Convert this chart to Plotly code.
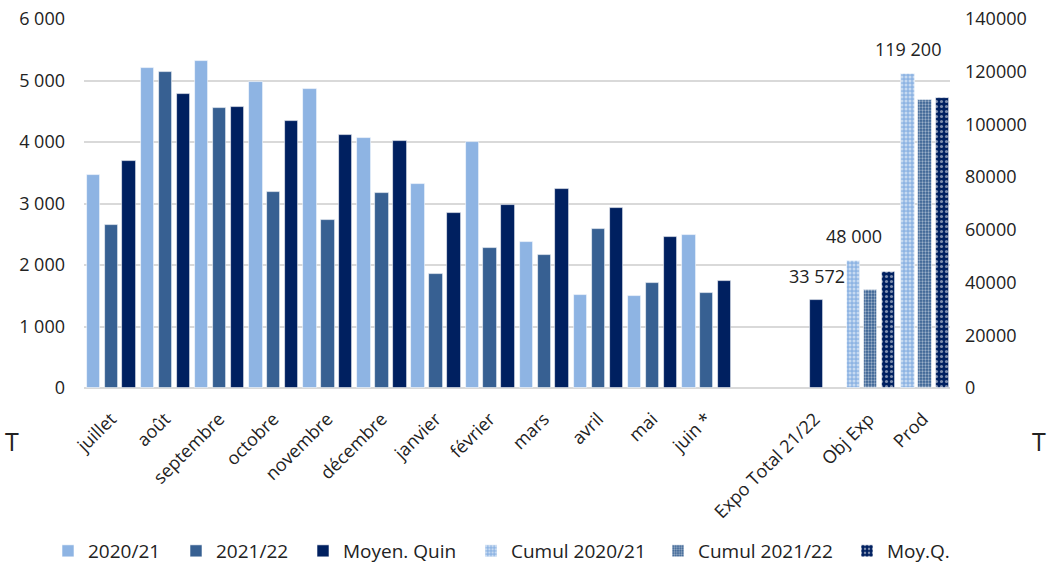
import plotly.graph_objects as go

categories = ["juillet", "août", "septembre", "octobre", "novembre", "décembre",
              "janvier", "février", "mars", "avril", "mai", "juin *",
              " ", "Expo Total 21/22", "Obj Exp", "Prod"]
months = categories[:12]

s2020_21 = [3460, 5200, 5320, 4980, 4860, 4060, 3310, 4000, 2370, 1520, 1490, 2480]
s2021_22 = [2650, 5140, 4550, 3190, 2730, 3170, 1850, 2280, 2160, 2580, 1700, 1550]
moyen_quin = [3690, 4780, 4570, 4340, 4110, 4010, 2840, 2970, 3230, 2930, 2460, 1740]

expo_cat = ["Expo Total 21/22"]
expo_total = [33572]

cumul_cats = ["Obj Exp", "Prod"]
cumul_2020_21 = [48000, 119200]
cumul_2021_22 = [37200, 109300]
moy_q = [43900, 110000]

C_LIGHT = "#8EB4E3"
C_MID = "#376092"
C_NAVY = "#002060"
FONT = "Open Sans"

fig = go.Figure()

W = 0.25
bar_line = dict(color="rgba(255,255,255,0.7)", width=0.8)
month_specs = [("2020/21", s2020_21, C_LIGHT, -0.45, "legend"),
               ("2021/22", s2021_22, C_MID, -0.12, "legend2"),
               ("Moyen. Quin", moyen_quin, C_NAVY, 0.21, "legend3")]
for name, vals, col, off, lg in month_specs:
    fig.add_trace(go.Bar(x=months, y=vals, name=name, marker=dict(color=col, line=bar_line),
                         width=W, offset=off, yaxis="y", legend=lg))

fig.add_trace(go.Bar(x=expo_cat, y=expo_total, name="Expo", showlegend=False,
                     marker=dict(color=C_NAVY, line=bar_line), width=W, offset=-0.09, yaxis="y2"))

W2 = 0.245
cum_specs = [("Cumul 2020/21", cumul_2020_21, C_LIGHT, -0.40, 4, 0.45, "legend4"),
             ("Cumul 2021/22", cumul_2021_22, C_MID, -0.085, 3, 0.45, "legend5"),
             ("Moy.Q.", moy_q, C_NAVY, 0.24, 5, 0.3, "legend6")]
for name, vals, col, off, sz, sol, lg in cum_specs:
    fig.add_trace(go.Bar(x=cumul_cats, y=vals, name=name,
                         marker=dict(color=col, line=bar_line,
                                     pattern=dict(shape=".", fgcolor="white", bgcolor=col,
                                                  size=sz, solidity=sol)),
                         width=W2, offset=off, yaxis="y2", legend=lg))

# data labels
annos = []
idx = {c: i for i, c in enumerate(categories)}
annos.append(dict(x=idx[expo_cat[0]] - 0.09 + W / 2, y=expo_total[0], xref="x", yref="y2",
                  text=f"{expo_total[0]:,}".replace(",", " "), showarrow=False,
                  yanchor="bottom", yshift=10, font=dict(size=18, color="#222")))
for c, v in zip(cumul_cats, cumul_2020_21):
    annos.append(dict(x=idx[c] - 0.40 + W2 / 2, y=v, xref="x", yref="y2",
                      text=f"{v:,}".replace(",", " "), showarrow=False,
                      yanchor="bottom", yshift=11, font=dict(size=18, color="#222")))
for xp in (-0.083, 1.103):
    annos.append(dict(x=xp, y=-0.143, xref="paper", yref="paper", text="T", showarrow=False,
                      xanchor="center", yanchor="middle",
                      font=dict(size=25, color="#222")))

# legends: one entry each, placed like the reference
legend_text_starts = [88, 216, 343, 511, 698, 887]
legend_layout = {}
for i, xs in enumerate(legend_text_starts):
    key = "legend" if i == 0 else f"legend{i + 1}"
    legend_layout[key] = dict(orientation="h", xref="container", yref="container",
                              x=(xs - 40) / 1048, xanchor="left", y=1 - 551 / 564,
                              yanchor="middle", bgcolor="rgba(0,0,0,0)",
                              font=dict(size=19, family=FONT, color="#222"))

fig.update_layout(
    width=1048, height=564,
    margin=dict(l=84, r=98, t=19, b=176, autoexpand=False),
    paper_bgcolor="white", plot_bgcolor="white",
    font=dict(family=FONT, size=18, color="#222"),
    separators=". ",
    bargap=0, barmode="overlay",
    xaxis=dict(type="category", categoryorder="array", categoryarray=categories,
               range=[-0.5, len(categories) - 0.5], tickangle=-45, automargin=False,
               showgrid=False, showline=False, ticks="", ticklabelstandoff=16,
               tickfont=dict(size=18)),
    yaxis=dict(range=[0, 6000], dtick=1000, tickformat=",", showgrid=True, automargin=False,
               gridcolor="#d9d9d9", gridwidth=1.5, zeroline=True, zerolinecolor="#d9d9d9",
               zerolinewidth=1.5, showline=False, ticks="", ticklabelstandoff=18,
               tickfont=dict(size=18)),
    yaxis2=dict(range=[0, 140000], dtick=20000, tickformat="d", overlaying="y", side="right",
                showgrid=False, zeroline=False, showline=False, ticks="", automargin=False,
                ticklabelstandoff=14, tickfont=dict(size=18)),
    annotations=annos,
    **legend_layout,
)

fig.write_html("out.html", post_script="document.body.style.margin='0';",
               config={"displayModeBar": False})
